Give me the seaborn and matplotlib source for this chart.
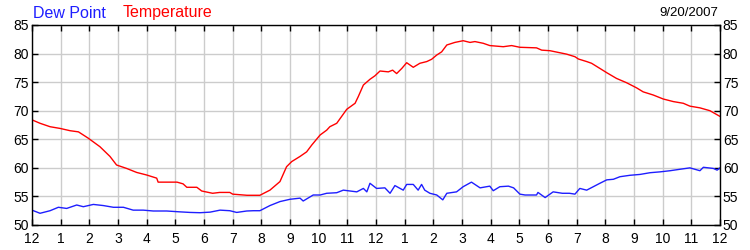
import matplotlib
matplotlib.use("Agg")
import matplotlib.pyplot as plt
import seaborn as sns
import pandas as pd

# Hours since midnight and readings (deg F)
temp_hours = [0.0, 0.28, 0.63, 0.98, 1.33, 1.62, 1.96, 2.37, 2.72, 2.95, 3.3, 3.65, 4.0, 4.35,
              4.4, 5.06, 5.27, 5.4, 5.75, 5.92, 6.3, 6.55, 6.9, 7.0, 7.5, 7.95, 8.3, 8.65,
              8.88, 9.06, 9.35, 9.58, 9.76, 10.05, 10.28, 10.39, 10.63, 10.98, 11.27, 11.38,
              11.56, 11.79, 11.96, 12.14, 12.43, 12.58, 12.72, 12.9, 13.07, 13.3, 13.53,
              13.77, 13.94, 14.12, 14.29, 14.47, 14.75, 15.04, 15.28, 15.45, 15.74, 15.97,
              16.44, 16.73, 17.02, 17.6, 17.78, 18.07, 18.36, 18.65, 18.94, 19.06, 19.35,
              19.52, 19.81, 20.05, 20.39, 20.74, 21.09, 21.32, 21.67, 22.02, 22.37, 22.72,
              22.95, 23.3, 23.65, 24.0]
temperature = [68.4, 67.8, 67.2, 66.9, 66.5, 66.3, 65.2, 63.7, 62.0, 60.5, 59.9, 59.2, 58.75,
               58.2, 57.5, 57.5, 57.2, 56.6, 56.6, 55.95, 55.55, 55.7, 55.7, 55.4, 55.2, 55.2,
               56.1, 57.6, 60.2, 61.1, 62.0, 62.8, 64.0, 65.75, 66.6, 67.2, 67.8, 70.25, 71.3,
               72.45, 74.5, 75.5, 76.1, 76.95, 76.8, 77.1, 76.5, 77.4, 78.4, 77.6, 78.3, 78.6,
               79.0, 79.75, 80.3, 81.5, 81.95, 82.25, 81.95, 82.1, 81.8, 81.4, 81.2, 81.4,
               81.1, 81.0, 80.6, 80.5, 80.2, 79.9, 79.45, 79.05, 78.6, 78.3, 77.4, 76.65,
               75.65, 74.9, 74.0, 73.3, 72.75, 72.05, 71.6, 71.3, 70.8, 70.5, 70.0, 69.0]

dew_hours = [0.0, 0.28, 0.63, 0.92, 1.21, 1.56, 1.79, 2.14, 2.49, 2.84, 3.19, 3.53, 3.88,
             4.23, 4.7, 5.16, 5.51, 5.86, 6.21, 6.56, 6.9, 7.14, 7.49, 7.72, 7.95, 8.3,
             8.65, 9.0, 9.35, 9.46, 9.81, 10.05, 10.28, 10.63, 10.86, 11.33, 11.56, 11.68,
             11.79, 12.02, 12.31, 12.49, 12.66, 12.95, 13.07, 13.3, 13.47, 13.59, 13.7,
             13.88, 14.12, 14.33, 14.47, 14.81, 15.04, 15.33, 15.63, 15.97, 16.09, 16.32,
             16.62, 16.8, 17.02, 17.2, 17.6, 17.65, 17.9, 18.18, 18.5, 18.75, 18.94, 19.11,
             19.35, 19.58, 19.81, 20.05, 20.28, 20.51, 20.86, 21.21, 21.56, 21.91, 22.26,
             22.6, 22.95, 23.3, 23.42, 23.77, 23.9, 24.0]
dew_point = [52.6, 52.05, 52.5, 53.1, 52.9, 53.5, 53.2, 53.6, 53.4, 53.1, 53.1, 52.6, 52.6,
             52.45, 52.45, 52.3, 52.2, 52.15, 52.25, 52.6, 52.5, 52.2, 52.45, 52.5, 52.5,
             53.4, 54.1, 54.5, 54.7, 54.2, 55.25, 55.25, 55.55, 55.65, 56.1, 55.8, 56.4,
             55.8, 57.3, 56.4, 56.5, 55.55, 56.9, 56.1, 57.1, 57.1, 56.1, 57.1, 56.1, 55.55,
             55.25, 54.4, 55.55, 55.8, 56.7, 57.5, 56.5, 56.8, 56.0, 56.7, 56.8, 56.5, 55.4,
             55.25, 55.25, 55.7, 54.8, 55.8, 55.55, 55.55, 55.4, 56.4, 56.1, 56.7, 57.3,
             57.9, 58.0, 58.45, 58.7, 58.85, 59.15, 59.3, 59.5, 59.75, 60.0, 59.5, 60.1,
             59.9, 59.6, 60.0]

x_tick_labels = ["12", "1", "2", "3", "4", "5", "6", "7", "8", "9", "10", "11",
                 "12", "1", "2", "3", "4", "5", "6", "7", "8", "9", "10", "11", "12"]
y_ticks = [50, 55, 60, 65, 70, 75, 80, 85]

sns.set_theme(style="white")
plt.rcParams["font.family"] = ["Liberation Sans", "DejaVu Sans"]

fig = plt.figure(figsize=(7.5, 2.5), dpi=100)
ax = fig.add_axes([32 / 750, 25 / 250, 688 / 750, 200 / 250])

df_t = pd.DataFrame({"hour": temp_hours, "value": temperature})
df_d = pd.DataFrame({"hour": dew_hours, "value": dew_point})
sns.lineplot(data=df_t, x="hour", y="value", ax=ax, color="#FF0000", linewidth=1.0)
sns.lineplot(data=df_d, x="hour", y="value", ax=ax, color="#1E1EFF", linewidth=1.0)

ax.set_xlim(0, 24)
ax.set_ylim(50, 85)
ax.set_xticks(range(25))
ax.set_xticklabels(x_tick_labels)
ax.set_yticks(y_ticks)
ax.set_yticklabels([str(v) for v in y_ticks])
ax.set_xlabel("")
ax.set_ylabel("")

ax.grid(True, color="#CCCCCC", linewidth=1.0)
ax.set_axisbelow(True)
for s in ax.spines.values():
    s.set_color("black")
    s.set_linewidth(1.0)
    s.set_visible(True)

ax.tick_params(axis="both", which="both", direction="in", length=4, width=1,
               color="black", labelsize=10, labelcolor="black")
ax.tick_params(axis="x", top=True, bottom=True, pad=5)
ax.tick_params(axis="y", left=True, right=True, labelleft=True, labelright=True, pad=2)

fig.text(33 / 750, 1 - 13 / 250, "Dew Point", color="#1E1EFF", fontsize=11.5,
         ha="left", va="center")
fig.text(123 / 750, 1 - 13 / 250, "Temperature", color="#FF0000", fontsize=11.5,
         ha="left", va="center")
fig.text(718 / 750, 1 - 13 / 250, "9/20/2007", color="black", fontsize=9.5,
         ha="right", va="center")

fig.savefig("out.png", dpi=100, facecolor="white")
